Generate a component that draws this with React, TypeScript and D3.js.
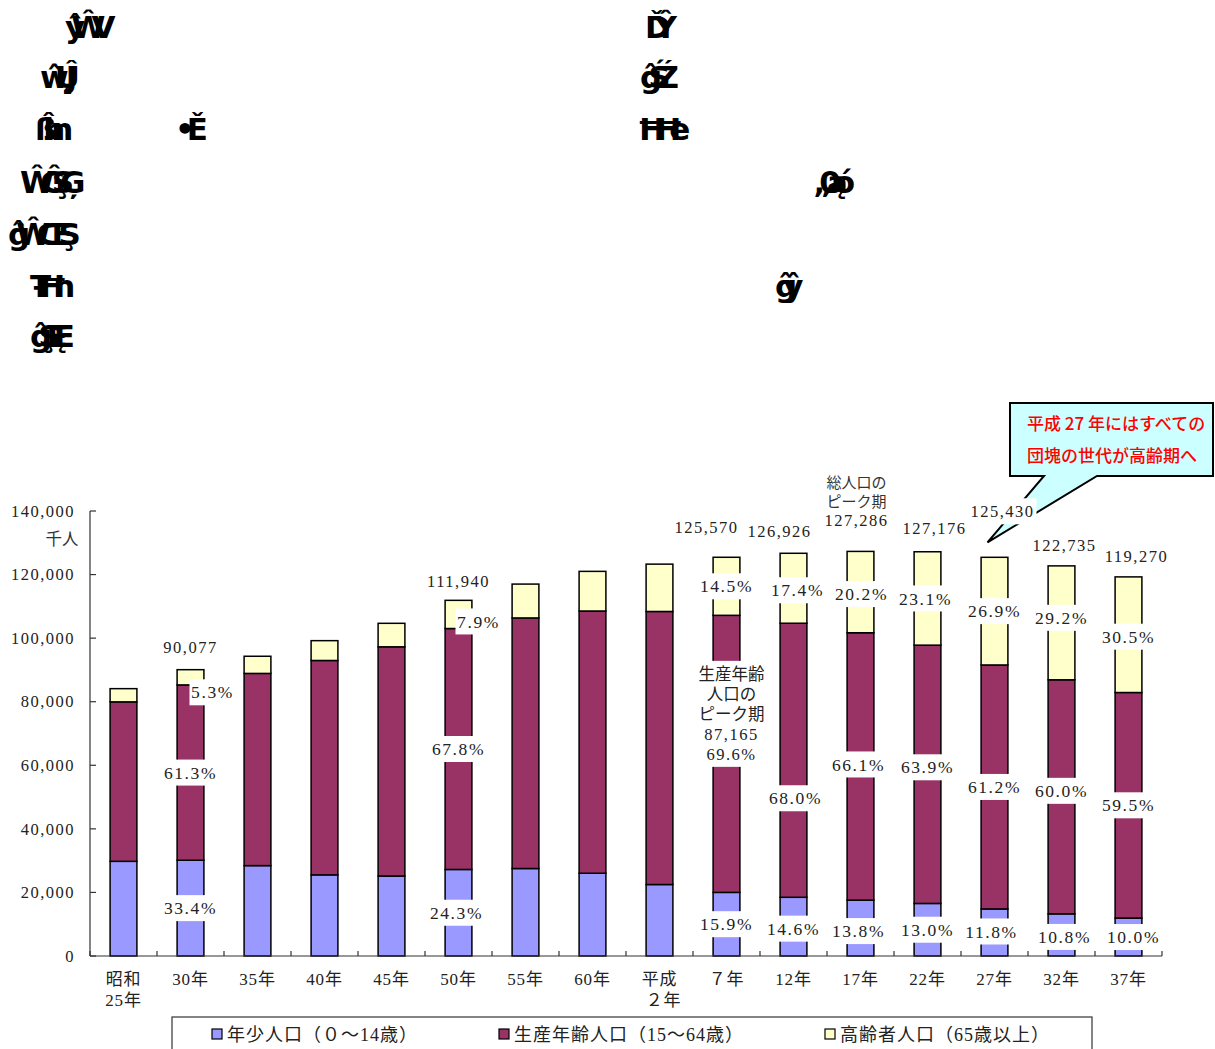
import React, { useEffect } from "react";
import * as d3 from "d3";

const categories = ["昭和\n25年", "30年", "35年", "40年", "45年", "50年", "55年", "60年", "平成\n２年", "７年", "12年", "17年", "22年", "27年", "32年", "37年"];
const young = [29786, 30123, 28434, 25529, 25153, 27221, 27524, 26033, 22486, 20014, 18472, 17565, 16533, 14801, 13255, 11927];
const working = [50168, 55167, 60469, 67444, 72119, 75807, 78835, 82506, 85904, 87165, 86220, 84136, 81265, 76763, 73641, 70966];
const elderly = [4155, 4786, 5398, 6236, 7393, 8865, 10647, 12468, 14895, 18261, 22005, 25585, 29378, 33866, 35839, 36377];
const yTicks = [0, 20000, 40000, 60000, 80000, 100000, 120000, 140000];

// total labels: category index, text
const totalIdx = [1, 5, 9, 10, 11, 12, 13, 14, 15];
const totalText = ["90,077", "111,940", "125,570", "126,926", "127,286", "127,176", "125,430", "122,735", "119,270"];
const totalDx = [0, 0, -20, -14, -4, 7, 8, 3, 8];
const totalDy = [-22, -19, -30, -22, -31, -24, -46, -21, -21];

// percentage labels: [category index, series (0 young,1 working,2 elderly), text, dx, dy]
const pctLabels: [number, number, string, number, number][] = [
  [1, 2, "5.3%", 22, 15], [1, 1, "61.3%", 0, 0], [1, 0, "33.4%", 0, 0],
  [5, 2, "7.9%", 20, 7], [5, 1, "67.8%", 0, 0], [5, 0, "24.3%", -2, 0],
  [9, 2, "14.5%", 0, 0], [9, 0, "15.9%", 0, 0],
  [10, 2, "17.4%", 4, 2], [10, 1, "68.0%", 2, 38], [10, 0, "14.6%", 0, 2],
  [11, 2, "20.2%", 1, 2], [11, 1, "66.1%", -2, -2], [11, 0, "13.8%", -2, 3],
  [12, 2, "23.1%", -2, 0], [12, 1, "63.9%", 0, -7], [12, 0, "13.0%", 0, 0],
  [13, 2, "26.9%", 0, 0], [13, 1, "61.2%", 0, 0], [13, 0, "11.8%", -3, -1],
  [14, 2, "29.2%", 0, -5], [14, 1, "60.0%", 0, -6], [14, 0, "10.8%", 3, 2],
  [15, 2, "30.5%", 0, 2], [15, 1, "59.5%", 0, 0], [15, 0, "10.0%", 5, 0],
];
const peakWorkLines = ["生産年齢", "人口の", "ピーク期", "87,165", "69.6%"];
const peakTotalLines = ["総人口の", "ピーク期"];
const legendNames = ["年少人口（０～14歳）", "生産年齢人口（15～64歳）", "高齢者人口（65歳以上）"];
const colors = ["#9999FF", "#993366", "#FFFFCC"];
const calloutLines = ["平成 27 年にはすべての", "団塊の世代が高齢期へ"];
const garbledLeft = ["ŷŴV", "ŵŲĴ", "ßĥn", "ŴĜŞĢ", "ĝŴŒŞ", "ŦĦn", "ĝŞĘE"];
const garbledRight = ["ĎŶ", "ĝŚŹ", "ĦĦe", "„0ąó", "ĝŷ"];

const SERIF = "'Liberation Serif', 'Noto Sans CJK JP', serif";
const SANS = "'Noto Sans CJK JP', sans-serif";

export default function App() {
  useEffect(() => {
    document.body.style.margin = "0";
    document.body.style.overflow = "hidden";
  }, []);

  const W = 1215, H = 1049;
  const x = d3.scaleBand<number>().domain(d3.range(categories.length)).range([90, 1162]).paddingInner(0.6).paddingOuter(0.3);
  const y = d3.scaleLinear().domain([0, 140000]).range([956, 511]);
  const step = x.step();
  const bw = x.bandwidth();
  const series = [young, working, elderly];
  const stack = d3.stack<number>().keys(["0", "1", "2"]).value((i, k) => series[+k][i]);
  const stacked = stack(d3.range(categories.length));
  const cx = (i: number) => (x(i) as number) + bw / 2;
  const fmt = d3.format(",");

  const leftX = [65, 40, 35, 20, 8, 30, 30];
  const rowY = [38, 88, 140, 193, 245, 297, 347];
  const rightX = [645, 640, 637, 813, 775];
  const rightY = [38, 88, 140, 193, 297];

  const tip13X = cx(13) - 7;
  const tip13Y = y(young[13] + working[13] + elderly[13]) - 15;

  return (
    <svg width={W} height={H} style={{ display: "block", background: "#fff" }}>
      {/* garbled header text */}
      {garbledLeft.map((t, i) => (
        <text key={"gl" + i} x={leftX[i]} y={rowY[i]} fontFamily="'DejaVu Sans'" fontWeight="bold" fontSize={31} letterSpacing={-14} fill="#000">{t}</text>
      ))}
      <text x={175} y={140} fontFamily="'DejaVu Sans'" fontWeight="bold" fontSize={31} letterSpacing={-8} fill="#000">•Ě</text>
      {garbledRight.map((t, i) => (
        <text key={"gr" + i} x={rightX[i]} y={rightY[i]} fontFamily="'DejaVu Sans'" fontWeight="bold" fontSize={31} letterSpacing={-14} fill="#000">{t}</text>
      ))}

      {/* bars */}
      {stacked.map((s, k) => (
        <g key={"s" + k}>
          {s.map((d, i) => (
            <rect key={i} x={x(i)} y={y(d[1])} width={bw} height={y(d[0]) - y(d[1])} fill={colors[k]} stroke="#000" strokeWidth={1.5} />
          ))}
        </g>
      ))}

      {/* axes */}
      <line x1={90} x2={90} y1={511} y2={956} stroke="#333" strokeWidth={1.2} />
      <line x1={90} x2={1162} y1={956} y2={956} stroke="#333" strokeWidth={1.2} />
      {yTicks.map((t) => (
        <g key={"yt" + t}>
          <line x1={90} x2={96} y1={y(t)} y2={y(t)} stroke="#333" strokeWidth={1.2} />
          <text x={75} y={y(t)} dy="0.35em" textAnchor="end" fontFamily={SERIF} fontSize={16.5} letterSpacing={1.5} fill="#222">{fmt(t)}</text>
        </g>
      ))}
      {d3.range(categories.length + 1).map((i) => (
        <line key={"xt" + i} x1={90 + i * step} x2={90 + i * step} y1={956} y2={951} stroke="#333" strokeWidth={1.2} />
      ))}
      <text x={62} y={539} dy="0.35em" textAnchor="middle" fontFamily={SANS} fontSize={16.5} fill="#333">千人</text>
      {categories.map((c, i) => {
        const lines = c.split("\n");
        return (
          <text key={"xl" + i} x={cx(i)} y={985} dy="0.35em" textAnchor="middle" fontFamily={SERIF} fontSize={17} letterSpacing={0.8} fill="#222">
            {lines.map((l, j) => (
              <tspan key={j} x={cx(i) + (j === 1 && i === 8 ? 4 : 0)} dy={j === 0 ? 0 : 21}>{l}</tspan>
            ))}
          </text>
        );
      })}

      {/* percentage labels */}
      {pctLabels.map(([ci, k, t, dx, dy], n) => {
        const seg = stacked[k][ci];
        const px = cx(ci) + dx;
        const py = (y(seg[0]) + y(seg[1])) / 2 + dy;
        const w = t.length * 11 + 2;
        return (
          <g key={"p" + n}>
            <rect x={px - w / 2} y={py - 13} width={w} height={26} fill="#fff" />
            <text x={px} y={py} dy="0.35em" textAnchor="middle" fontFamily={SERIF} fontSize={17.5} letterSpacing={1.6} fill="#222">{t}</text>
          </g>
        );
      })}

      {/* working-age peak annotation */}
      {(() => {
        const seg = stacked[1][9];
        const px = cx(9) + 5;
        const mid = (y(seg[0]) + y(seg[1])) / 2;
        const top = mid - 4 * 20;
        return (
          <g>
            <rect x={px - 35} y={top - 13} width={70} height={4 * 20 + 26} fill="#fff" />
            {peakWorkLines.map((l, j) => (
              <text key={j} x={px} y={top + j * 20} dy="0.35em" textAnchor="middle" fontFamily={SERIF} fontSize={16.5} letterSpacing={j >= 3 ? 1.5 : 0} fill="#222">{l}</text>
            ))}
          </g>
        );
      })()}

      {/* callout */}
      <g>
        <path d={`M1010,403 H1213 V476 H1097 L${tip13X},${tip13Y} L1044,476 H1010 Z`} fill="#CCFFFF" stroke="#000" strokeWidth={2} />
        {calloutLines.map((l, j) => (
          <text key={j} x={1027} y={424 + j * 32} dy="0.35em" fontFamily={SANS} fontSize={17} fontWeight={500} fill="#FF0000">{l}</text>
        ))}
      </g>

      {/* total labels */}
      {totalIdx.map((ci, n) => {
        const tot = young[ci] + working[ci] + elderly[ci];
        const px = cx(ci) + totalDx[n];
        const py = y(tot) + totalDy[n];
        return (
          <g key={"t" + n}>
            {ci === 13 && <rect x={px - 34} y={py - 13} width={68} height={26} fill="#fff" />}
            <text x={px} y={py} dy="0.35em" textAnchor="middle" fontFamily={SERIF} fontSize={16.5} letterSpacing={1.5} fill="#222">{totalText[n]}</text>
          </g>
        );
      })}
      {(() => {
        const ci = 11;
        const tot = young[ci] + working[ci] + elderly[ci];
        const px = cx(ci) - 4;
        const base = y(tot) - 31;
        return peakTotalLines.map((l, j) => (
          <text key={"pt" + j} x={px} y={base - (2 - j) * 19} dy="0.35em" textAnchor="middle" fontFamily={SERIF} fontSize={15} fill="#333">{l}</text>
        ));
      })()}

      {/* legend */}
      <rect x={172} y={1017} width={920} height={50} fill="#fff" stroke="#333" strokeWidth={1.2} />
      {legendNames.map((n, i) => {
        const lx = [212, 499, 825][i];
        return (
          <g key={"lg" + i}>
            <rect x={lx} y={1029} width={10} height={10} fill={colors[i]} stroke="#000" strokeWidth={1.2} />
            <text x={lx + 15} y={1035} dy="0.35em" fontFamily={SERIF} fontSize={18} letterSpacing={1} fill="#222">{n}</text>
          </g>
        );
      })}
    </svg>
  );
}
